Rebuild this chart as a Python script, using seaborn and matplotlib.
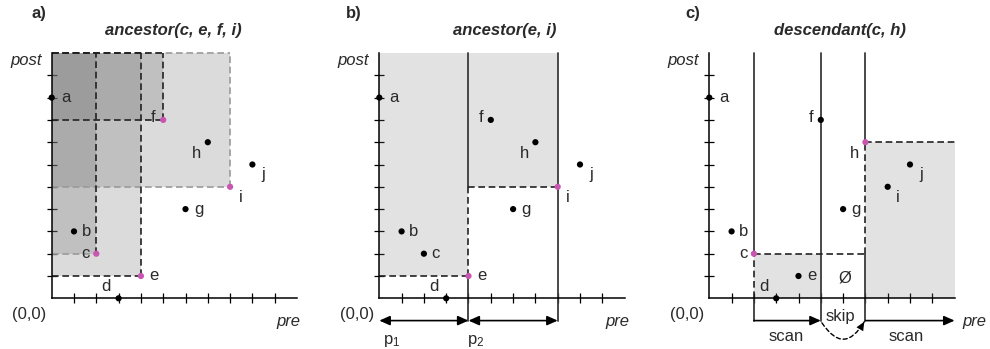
import matplotlib
matplotlib.use('Agg')
import matplotlib.pyplot as plt
from matplotlib.patches import Rectangle
import pandas as pd
import seaborn as sns

# tree nodes in the pre/post plane
nodes = ['a', 'b', 'c', 'd', 'e', 'f', 'g', 'h', 'i', 'j']
pre = [0, 1, 2, 3, 4, 5, 6, 7, 8, 9]
post = [9, 3, 2, 0, 1, 8, 4, 7, 5, 6]
top = 11

# context nodes of each step
query_a = ['c', 'e', 'f', 'i']
query_b = ['e', 'i']
query_c = ['c', 'h']
skip_c = ['f']  # subtree jumped over in the descendant step

titles = ['ancestor(c, e, f, i)', 'ancestor(e, i)', 'descendant(c, h)']
panel_tags = ['a)', 'b)', 'c)']
part_labels = ['p$_1$', 'p$_2$']

df = pd.DataFrame({'node': nodes, 'pre': pre, 'post': post})
P = dict(zip(nodes, pre))
Q = dict(zip(nodes, post))

sns.set_theme(style='white')
plt.rcParams['font.family'] = ['Liberation Sans', 'DejaVu Sans']
plt.rcParams['mathtext.fontset'] = 'custom'
plt.rcParams['mathtext.rm'] = 'Liberation Sans'
plt.rcParams['mathtext.it'] = 'Liberation Sans:italic'
plt.rcParams['mathtext.default'] = 'rm'

W, H, U, OY = 990, 349, 22.3, 298.3
XL, XR, YB, YT = -2.3, 12.4, -2.2, 13.2
PINK = '#c855b0'
DARK = '#222222'
LIGHT = '#9a9a9a'
LINE = '#3a3a3a'
DASH = (0, (4, 2.2))
TXT = '#2a2a2a'
HEAD = '-|>,head_length=0.45,head_width=0.2'

fig = plt.figure(figsize=(9.9, 3.49), dpi=100)


def make_panel(ox):
    ax = fig.add_axes([(ox + XL * U) / W, (H - OY + YB * U) / H,
                       (XR - XL) * U / W, (YT - YB) * U / H])
    ax.set_xlim(XL, XR)
    ax.set_ylim(YB, YT)
    ax.set_facecolor('none')
    for s in ['top', 'right']:
        ax.spines[s].set_visible(False)
    for s in ['left', 'bottom']:
        ax.spines[s].set_position(('data', 0))
        ax.spines[s].set_bounds(0, top)
        ax.spines[s].set_color('black')
        ax.spines[s].set_linewidth(1.1)
        ax.spines[s].set_zorder(4)
    ax.set_xticks(range(1, top))
    ax.set_yticks(range(1, top))
    ax.tick_params(direction='inout', length=7, width=0.9, color='black',
                   labelbottom=False, labelleft=False, left=True, bottom=True)
    ax.grid(False)
    return ax


# label placement (dx, dy, ha)
offs = {'a': (0.45, 0, 'left'), 'b': (0.35, 0, 'left'), 'c': (-0.3, 0, 'right'),
        'd': (-0.55, 0.55, 'center'), 'e': (0.38, 0, 'left'), 'f': (-0.35, 0.1, 'right'),
        'g': (0.38, 0, 'left'), 'h': (-0.5, -0.5, 'center'), 'i': (0.47, -0.5, 'center'),
        'j': (0.5, -0.45, 'center')}


def draw_nodes(ax, query, over=None):
    d = df.copy()
    d['kind'] = ['q' if n in query else 'n' for n in d['node']]
    sns.scatterplot(data=d, x='pre', y='post', hue='kind',
                    palette={'q': PINK, 'n': 'black'}, s=20, linewidth=0,
                    legend=False, ax=ax, zorder=6, clip_on=False)
    for n, x, y in zip(d['node'], d['pre'], d['post']):
        dx, dy, ha = offs[n]
        if over and n in over:
            dx, dy, ha = over[n]
        ax.text(x + dx, y + dy, n, ha=ha, va='center', fontsize=12, color=TXT)
    ax.set_xlabel('')
    ax.set_ylabel('')


def decorate(ax, i, title_x, tag_x, pre_x, pre_ha='center'):
    ax.text(title_x, 12.0, titles[i], ha='center', va='center', fontsize=12,
            fontweight='bold', style='italic', color=TXT)
    ax.text(tag_x, 12.75, panel_tags[i], ha='center', va='center', fontsize=12,
            fontweight='bold', color=TXT)
    ax.text(-1.15, 10.65, 'post', ha='center', va='center', fontsize=12,
            style='italic', color=TXT)
    ax.text(-1.0, -0.72, '(0,0)', ha='center', va='center', fontsize=12, color=TXT)
    ax.text(pre_x, -1.05, 'pre', ha=pre_ha, va='center', fontsize=12,
            style='italic', color=TXT, clip_on=False)


# ---- a) ancestor of several context nodes, overlapping regions
ax = make_panel(51.7)
for q in query_a:
    ax.add_patch(Rectangle((0, Q[q]), P[q], top - Q[q], facecolor='#707070',
                           alpha=0.25, edgecolor='none', zorder=1))
edge_cols = {'c': (DARK, LIGHT), 'e': (DARK, DARK), 'f': (DARK, DARK), 'i': (LIGHT, LIGHT)}
for pass_col in [LIGHT, DARK]:
    for q in query_a:
        side, bottom = edge_cols[q]
        if side == pass_col:
            ax.plot([P[q], P[q]], [Q[q], top], color=side, lw=1.2, ls=DASH, zorder=2)
            ax.plot([0, P[q]], [top, top], color=side, lw=1.2, ls=DASH, zorder=2)
        if bottom == pass_col:
            ax.plot([0, P[q]], [Q[q], Q[q]], color=bottom, lw=1.2, ls=DASH, zorder=2)
draw_nodes(ax, query_a)
decorate(ax, 0, 5.45, -0.55, 10.6)

# ---- b) ancestor with partitions p1, p2
ax = make_panel(379.3)
e, i_ = query_b
ax.add_patch(Rectangle((0, Q[e]), P[e], top - Q[e], facecolor='#707070', alpha=0.2,
                       edgecolor='none', zorder=1))
ax.add_patch(Rectangle((P[e], Q[i_]), P[i_] - P[e], top - Q[i_], facecolor='#707070',
                       alpha=0.2, edgecolor='none', zorder=1))
ax.plot([P[e], P[e]], [Q[i_], top], color=LINE, lw=1.3, zorder=3)
ax.plot([P[e], P[e]], [Q[e], Q[i_]], color=DARK, lw=1.2, ls=DASH, zorder=3)
ax.plot([P[e], P[e]], [-1, Q[e]], color=LINE, lw=1.3, zorder=3, clip_on=False)
ax.plot([P[i_], P[i_]], [-1, top], color=LINE, lw=1.3, zorder=3, clip_on=False)
ax.plot([0, P[e]], [Q[e], Q[e]], color=DARK, lw=1.2, ls=DASH, zorder=3)
ax.plot([P[e], P[i_]], [Q[i_], Q[i_]], color=DARK, lw=1.2, ls=DASH, zorder=3)
bounds = [0, P[e], P[i_]]
for k in range(2):
    ax.annotate('', xy=(bounds[k + 1], -1), xytext=(bounds[k], -1),
                arrowprops=dict(arrowstyle='<|-|>,head_length=0.45,head_width=0.2',
                                color='black', lw=1.2, mutation_scale=14,
                                shrinkA=0, shrinkB=0))
ax.text(0.55, -1.9, part_labels[0], ha='center', va='center', fontsize=12, color=TXT)
ax.text(4.3, -1.9, part_labels[1], ha='center', va='center', fontsize=12, color=TXT)
draw_nodes(ax, query_b, over={'c': (0.35, 0, 'left')})
decorate(ax, 1, 5.63, -1.16, 10.7)

# ---- c) descendant with scan / skip
ax = make_panel(709.3)
c, h = query_c
f = skip_c[0]
ax.add_patch(Rectangle((P[c], 0), P[f] - P[c], Q[c], facecolor='#707070', alpha=0.2,
                       edgecolor='none', zorder=1))
ax.add_patch(Rectangle((P[h], 0), top - P[h], Q[h], facecolor='#707070', alpha=0.2,
                       edgecolor='none', zorder=1))
ax.plot([P[c], P[c]], [Q[c], top], color=LINE, lw=1.3, zorder=3)
ax.plot([P[c], P[c]], [0, Q[c]], color=DARK, lw=1.2, ls=DASH, zorder=3)
ax.plot([P[c], P[c]], [-1, 0], color=LINE, lw=1.3, zorder=3)
ax.plot([P[f], P[f]], [-1, top], color=LINE, lw=1.3, zorder=3)
ax.plot([P[h], P[h]], [Q[h], top], color=LINE, lw=1.3, zorder=3)
ax.plot([P[h], P[h]], [Q[c], Q[h]], color=DARK, lw=1.2, ls=DASH, zorder=3)
ax.plot([P[h], P[h]], [-1, Q[c]], color=LINE, lw=1.3, zorder=3)
ax.plot([P[c], P[h]], [Q[c], Q[c]], color=DARK, lw=1.2, ls=DASH, zorder=3)
ax.plot([P[h], top], [Q[h], Q[h]], color=DARK, lw=1.2, ls=DASH, zorder=3)
for x0, x1 in [(P[c], P[f]), (P[h], top)]:
    ax.annotate('', xy=(x1, -1), xytext=(x0, -1),
                arrowprops=dict(arrowstyle=HEAD, color='black', lw=1.2,
                                mutation_scale=14, shrinkA=0, shrinkB=0))
# dashed skip arc: dashed body, then a solid head on the same path
arc = dict(connectionstyle='arc3,rad=0.8', shrinkA=0, shrinkB=0, mutation_scale=14)
ax.annotate('', xy=(P[h] - 0.05, -1.05), xytext=(P[f] + 0.05, -1.1),
            arrowprops=dict(arrowstyle='-', color='black', lw=1.0, ls=(0, (3, 2)), **arc))
ax.annotate('', xy=(P[h] - 0.05, -1.05), xytext=(P[f] + 0.05, -1.1),
            arrowprops=dict(arrowstyle=HEAD, color='black', lw=0, **arc))
ax.text(5.86, -0.82, 'skip', ha='center', va='center', fontsize=12, color=TXT)
ax.text(3.47, -1.72, 'scan', ha='center', va='center', fontsize=12, color=TXT)
ax.text(8.85, -1.72, 'scan', ha='center', va='center', fontsize=12, color=TXT)
ax.text(6.08, 0.91, '\u00d8', ha='center', va='center', fontsize=12, color=TXT)
draw_nodes(ax, query_c)
decorate(ax, 2, 5.86, -0.75, 11.35, pre_ha='left')

fig.savefig('out.png', dpi=100)
